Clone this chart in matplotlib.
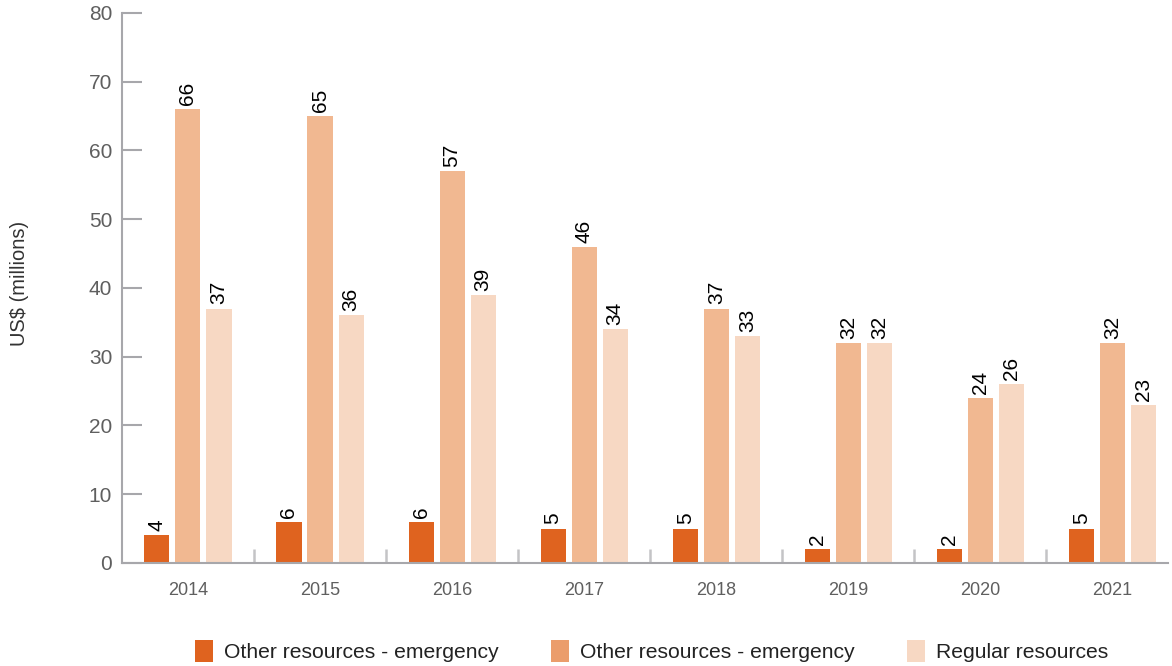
import numpy as np
import matplotlib.pyplot as plt
from matplotlib.patches import Patch

years = ["2014", "2015", "2016", "2017", "2018", "2019", "2020", "2021"]
emergency_a = [4, 6, 6, 5, 5, 2, 2, 5]
emergency_b = [66, 65, 57, 46, 37, 32, 24, 32]
regular = [37, 36, 39, 34, 33, 32, 26, 23]

series_names = ["Other resources - emergency", "Other resources - emergency", "Regular resources"]
bar_colors = ["#DF631F", "#F1B891", "#F7D8C3"]
legend_colors = ["#DF631F", "#EB9D6C", "#F7D8C3"]

plt.rcParams['font.family'] = ['Liberation Sans', 'DejaVu Sans']

fig = plt.figure(figsize=(11.72, 6.66), dpi=100)
ax = fig.add_axes([0.104, 0.1547, 0.8926, 0.8258])

x = np.arange(len(years))
offset = 0.235
width = 0.19
for k, vals in enumerate([emergency_a, emergency_b, regular]):
    bars = ax.bar(x + (k - 1) * offset, vals, width, color=bar_colors[k])
    for b, v in zip(bars, vals):
        ax.annotate(str(v), (b.get_x() + b.get_width() / 2, v),
                    xytext=(0, 3), textcoords='offset points',
                    rotation=90, ha='center', va='bottom',
                    fontsize=15, color='black')

ax.set_xlim(-0.5, 7.42)
ax.set_ylim(0, 80)
ax.set_yticks(range(0, 81, 10))
ax.set_xticks(x)
ax.set_xticklabels(years)
ax.set_xticks(x[:-1] + 0.5, minor=True)

grey = "#A7A7AB"
for s in ['top', 'right']:
    ax.spines[s].set_visible(False)
for s in ['left', 'bottom']:
    ax.spines[s].set_color(grey)
    ax.spines[s].set_linewidth(1.5)

ax.tick_params(axis='y', direction='in', length=14.5, width=1.5, color=grey,
               labelsize=15, labelcolor='#5F5F5F', pad=7)
ax.tick_params(axis='x', which='major', length=0, labelsize=13,
               labelcolor='#5F5F5F', pad=14)
ax.tick_params(axis='x', which='minor', direction='in', length=10, width=1.8,
               color='#C4C4C6')

fig.text(0.017, 0.575, "US$ (millions)", rotation=90, ha='center', va='center',
         fontsize=14.5, color='#333333')

handles = [Patch(facecolor=c, edgecolor='none') for c in legend_colors]
fig.legend(handles, series_names, loc='center', bbox_to_anchor=(0.556, 0.022),
           ncol=3, frameon=False, fontsize=15.2, handlelength=0.85, handleheight=1.2,
           handletextpad=0.5, columnspacing=2.5, labelcolor='#222222')

fig.savefig("out.png", dpi=100)
